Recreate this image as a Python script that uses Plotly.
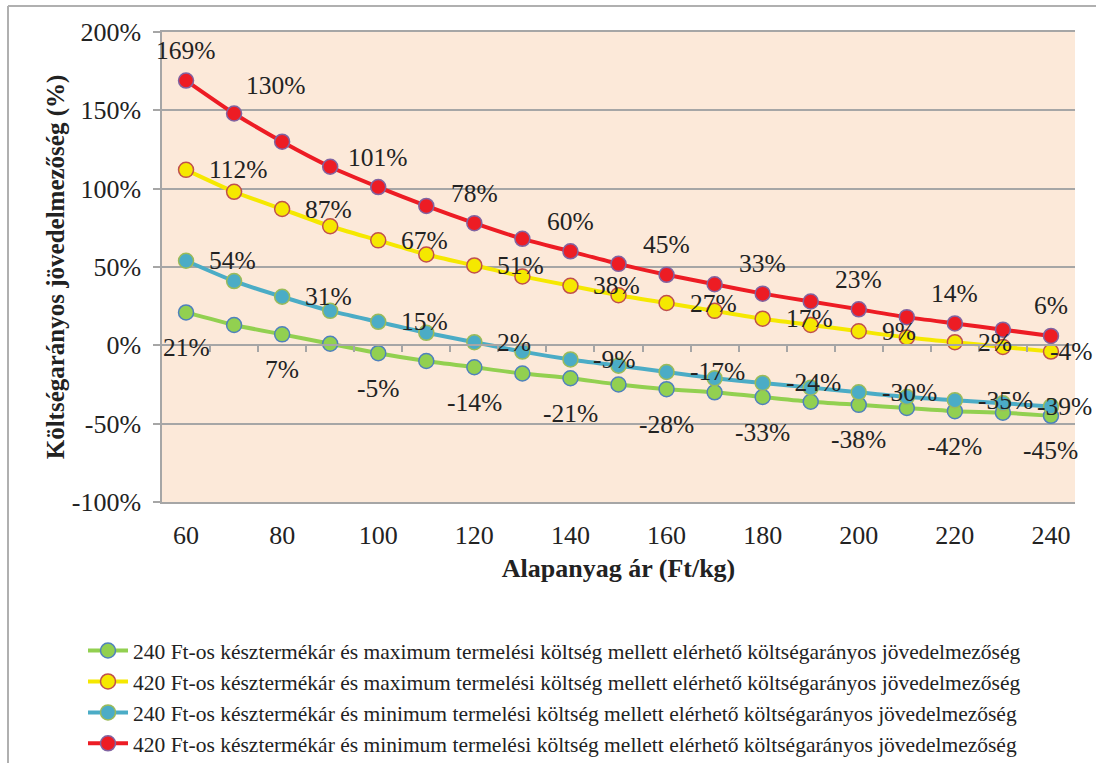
import plotly.graph_objects as go

x_vals = [60, 70, 80, 90, 100, 110, 120, 130, 140, 150, 160, 170, 180, 190, 200, 210, 220, 230, 240]

green_240_max = [21, 13, 7, 1, -5, -10, -14, -18, -21, -25, -28, -30, -33, -36, -38, -40, -42, -43, -45]
yellow_420_max = [112, 98, 87, 76, 67, 58, 51, 44, 38, 32, 27, 22, 17, 13, 9, 5, 2, -1, -4]
teal_240_min = [54, 41, 31, 22, 15, 8, 2, -4, -9, -13, -17, -21, -24, -27, -30, -33, -35, -37, -39]
red_420_min = [169, 148, 130, 114, 101, 89, 78, 68, 60, 52, 45, 39, 33, 28, 23, 18, 14, 10, 6]

names = [
    "240 Ft-os késztermékár és maximum termelési költség mellett elérhető költségarányos jövedelmezőség",
    "420 Ft-os késztermékár és maximum termelési költség mellett elérhető költségarányos jövedelmezőség",
    "240 Ft-os késztermékár és minimum termelési költség mellett elérhető költségarányos jövedelmezőség",
    "420 Ft-os késztermékár és minimum termelési költség mellett elérhető költségarányos jövedelmezőség",
]
x_tick_vals = [60, 80, 100, 120, 140, 160, 180, 200, 220, 240]
y_tick_vals = [-100, -50, 0, 50, 100, 150, 200]
y_tick_text = ["-100%", "-50%", "0%", "50%", "100%", "150%", "200%"]
x_title = "Alapanyag ár (Ft/kg)"
y_title = "Költségarányos jövedelmezőség (%)"

FONT = "Liberation Serif"
GRID = "#A6A6A6"
TXT = "#222222"

W, H = 1096, 763
ML, MR, MT, MB = 162, 21, 32, 261

series = [
    (green_240_max, names[0], "#92D050", "#92D050", "#4F81BD", "below"),
    (yellow_420_max, names[1], "#F5E800", "#F5E800", "#C0504D", "right"),
    (teal_240_min, names[2], "#4BACC6", "#4BACC6", "#9BBB59", "right"),
    (red_420_min, names[3], "#ED1C24", "#ED1C24", "#8064A2", "above"),
]

fig = go.Figure()
for vals, nm, lc, mf, mo, _ in series:
    fig.add_trace(go.Scatter(
        x=x_vals, y=vals, name=nm, mode="lines+markers",
        line=dict(color=lc, width=4, shape="spline", smoothing=0.6),
        marker=dict(size=15, color=mf, line=dict(color=mo, width=1.5)),
    ))

# invisible trace to realise the zero-crossing axis
fig.add_trace(go.Scatter(x=[x_vals[0]], y=[0], xaxis="x2", mode="markers",
                         marker=dict(opacity=0), showlegend=False, hoverinfo="skip"))

annotations = []
for vals, nm, lc, mf, mo, pos in series:
    for i in range(0, len(x_vals), 2):
        xv, yv = x_vals[i], vals[i]
        a = dict(x=xv, y=yv, xref="x", yref="y", text=f"{yv}%", showarrow=False,
                 font=dict(family=FONT, size=25.5, color=TXT))
        if pos == "above":
            a.update(xanchor="center", yanchor="middle", yshift=30)
            if xv == 80:
                a.update(xshift=-6, yshift=56)
        elif pos == "below":
            a.update(xanchor="center", yanchor="middle", yshift=-35)
        else:
            if xv == x_vals[-1]:
                a.update(xanchor="right", yanchor="middle", xshift=43)
            else:
                a.update(xanchor="left", yanchor="middle", xshift=21)
        annotations.append(a)

plot_h = H - MT - MB
plot_w = W - ML - MR
def px_to_paper_x(px):
    return (px - ML) / plot_w
def px_to_paper_y(py):
    return (H - MB - py) / plot_h

fig.update_layout(
    width=W, height=H,
    margin=dict(l=ML, r=MR, t=MT, b=MB, autoexpand=False),
    paper_bgcolor="white",
    plot_bgcolor="#FCE9D9",
    font=dict(family=FONT, size=26, color=TXT),
    showlegend=True,
    legend=dict(
        x=px_to_paper_x(83), y=px_to_paper_y(630),
        xanchor="left", yanchor="top",
        font=dict(family=FONT, size=21.5, color=TXT),
        bgcolor="rgba(0,0,0,0)", tracegroupgap=0, itemwidth=40,
    ),
    xaxis=dict(
        range=[55, 245], tickmode="array", tickvals=x_tick_vals,
        ticks="", showgrid=False, zeroline=False,
        showline=True, linecolor=GRID, linewidth=1.5, mirror=True,
        ticklabelstandoff=9, tickfont=dict(family=FONT, size=26, color=TXT),
        title=dict(text=f"<b>{x_title}</b>", font=dict(family=FONT, size=26, color=TXT), standoff=10),
    ),
    xaxis2=dict(
        range=[55, 245], overlaying="x", anchor="free", position=1 / 3, side="bottom",
        tickmode="array", tickvals=[v + 5 for v in x_vals[:-1]],
        ticks="outside", ticklen=6, tickcolor=GRID, tickwidth=1.5,
        showticklabels=False, showgrid=False, zeroline=False,
        showline=True, linecolor=GRID, linewidth=1.5,
    ),
    yaxis=dict(
        range=[-100, 200], tickmode="array", tickvals=y_tick_vals, ticktext=y_tick_text,
        ticks="outside", ticklen=7, tickcolor=GRID, tickwidth=1.5,
        showgrid=True, gridcolor=GRID, gridwidth=1.5, zeroline=False,
        showline=True, linecolor=GRID, linewidth=1.5,
        ticklabelstandoff=7, tickfont=dict(family=FONT, size=26, color=TXT),
        title=dict(text=f"<b>{y_title}</b>", font=dict(family=FONT, size=25, color=TXT), standoff=0),
    ),
    annotations=annotations,
    shapes=[
        dict(type="line", xref="paper", yref="paper",
             x0=px_to_paper_x(8), x1=px_to_paper_x(1100), y0=px_to_paper_y(6), y1=px_to_paper_y(6),
             line=dict(color="#B0B0B0", width=2)),
        dict(type="line", xref="paper", yref="paper",
             x0=px_to_paper_x(8), x1=px_to_paper_x(8), y0=px_to_paper_y(6), y1=px_to_paper_y(770),
             line=dict(color="#B0B0B0", width=2)),
    ],
)

fig.write_html("out.html", config={"displayModeBar": False},
               post_script="document.body.style.margin='0';document.body.style.overflow='hidden';")
